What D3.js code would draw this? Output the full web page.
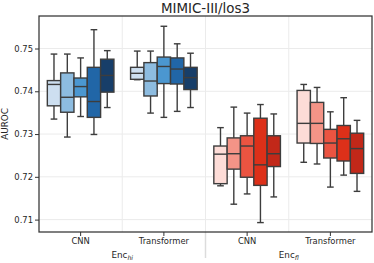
<!DOCTYPE html>
<html>
<head>
<meta charset="UTF-8">
<script src="https://d3js.org/d3.v7.min.js"></script>
<style>
  body { margin: 0; background: #fff; }
  text { font-family: "DejaVu Sans", sans-serif; fill: #262626; }
</style>
</head>
<body>
<div id="chart"></div>
<script>
// categories (4 boxes groups, two encoder blocks)
const models = ["CNN", "Transformer", "CNN", "Transformer"];
const encoders = ["hi", "fl"];
const yTicks = [0.71, 0.72, 0.73, 0.74, 0.75];

// box stats per group, 5 hues each
const whiskLo = [
  [0.7335, 0.7293, 0.7341, 0.7299, 0.7362],
  [0.7427, 0.7349, 0.7339, 0.7353, 0.7362],
  [0.7179, 0.7136, 0.7160, 0.7093, 0.7153],
  [0.7234, 0.7230, 0.7176, 0.7204, 0.7166]
];
const q1 = [
  [0.7366, 0.7351, 0.7387, 0.7339, 0.7398],
  [0.7428, 0.7389, 0.7418, 0.7417, 0.7404],
  [0.7184, 0.7218, 0.7199, 0.7180, 0.7224],
  [0.7279, 0.7278, 0.7244, 0.7237, 0.7208]
];
const med = [
  [0.7416, 0.7386, 0.7411, 0.7376, 0.7437],
  [0.7442, 0.7424, 0.7458, 0.7452, 0.7432],
  [0.7253, 0.7254, 0.7272, 0.7228, 0.7254],
  [0.7325, 0.7325, 0.7279, 0.7289, 0.7266]
];
const q3 = [
  [0.7425, 0.7443, 0.7431, 0.7456, 0.7475],
  [0.7456, 0.7467, 0.7480, 0.7478, 0.7456],
  [0.7272, 0.7291, 0.7296, 0.7337, 0.7296],
  [0.7402, 0.7374, 0.7311, 0.7320, 0.7302]
];
const whiskHi = [
  [0.7487, 0.7487, 0.7478, 0.7544, 0.7495],
  [0.7494, 0.7494, 0.7552, 0.7511, 0.7489],
  [0.7315, 0.7363, 0.7349, 0.7369, 0.7347],
  [0.7416, 0.7409, 0.7352, 0.7385, 0.7332]
];
const blues = ["#cddff0", "#8dbce0", "#4b97d0", "#2166a7", "#173e69"];
const reds = ["#fddcd7", "#f49487", "#eb5441", "#dd3019", "#c22819"];

const W = 374, H = 263;
const margin = {top: 16, right: 2, bottom: 31, left: 39};
const iw = W - margin.left - margin.right,
      ih = H - margin.top - margin.bottom;

const svg = d3.select("#chart").append("svg")
  .attr("width", W).attr("height", H);

const g = svg.append("g")
  .attr("transform", "translate(" + margin.left + "," + margin.top + ")");

const x = d3.scaleBand().domain(d3.range(models.length)).range([0, iw]);
const bw = x.bandwidth();
const hue = d3.scaleBand().domain(d3.range(5)).range([bw * 0.1, bw * 0.9]);
const y = d3.scaleLinear().domain([0.7071, 0.7576]).range([ih, 0]);

// grid
g.selectAll(".hgrid").data(yTicks).enter().append("line")
  .attr("x1", 0).attr("x2", iw)
  .attr("y1", d => y(d)).attr("y2", d => y(d))
  .attr("stroke", "#ebebeb").attr("stroke-width", 1);
g.selectAll(".vgrid").data(d3.range(1, models.length)).enter().append("line")
  .attr("x1", d => x(d)).attr("x2", d => x(d))
  .attr("y1", 0).attr("y2", ih)
  .attr("stroke", "#ebebeb").attr("stroke-width", 1);

// separator between encoder blocks, below the axis
g.append("line")
  .attr("x1", x(2)).attr("x2", x(2))
  .attr("y1", ih).attr("y2", ih + 26)
  .attr("stroke", "#dcdcdc").attr("stroke-width", 1.5);

// boxes
const lineCol = "#3d3d3d";
models.forEach(function(m, gi) {
  const pal = gi < 2 ? blues : reds;
  for (let i = 0; i < 5; i++) {
    const x0 = x(gi) + hue(i), w = hue.bandwidth(), cx = x0 + w / 2;
    const cap = w / 2;
    const bg = g.append("g");
    bg.append("line").attr("x1", cx).attr("x2", cx)
      .attr("y1", y(whiskHi[gi][i])).attr("y2", y(q3[gi][i]));
    bg.append("line").attr("x1", cx).attr("x2", cx)
      .attr("y1", y(q1[gi][i])).attr("y2", y(whiskLo[gi][i]));
    bg.append("line").attr("x1", cx - cap / 2).attr("x2", cx + cap / 2)
      .attr("y1", y(whiskHi[gi][i])).attr("y2", y(whiskHi[gi][i]));
    bg.append("line").attr("x1", cx - cap / 2).attr("x2", cx + cap / 2)
      .attr("y1", y(whiskLo[gi][i])).attr("y2", y(whiskLo[gi][i]));
    bg.append("rect").attr("x", x0).attr("width", w)
      .attr("y", y(q3[gi][i])).attr("height", y(q1[gi][i]) - y(q3[gi][i]))
      .attr("fill", pal[i]);
    bg.append("line").attr("x1", x0).attr("x2", x0 + w)
      .attr("y1", y(med[gi][i])).attr("y2", y(med[gi][i]));
    bg.selectAll("line, rect").attr("stroke", lineCol).attr("stroke-width", 1.4);
  }
});

// frame
g.append("rect").attr("x", 0).attr("y", 0).attr("width", iw).attr("height", ih)
  .attr("fill", "none").attr("stroke", "#333").attr("stroke-width", 1.25);

// y axis
const yAxis = g.append("g")
  .call(d3.axisLeft(y).tickValues(yTicks).tickFormat(d3.format(".2f")).tickSize(4).tickPadding(2));
yAxis.select(".domain").remove();
yAxis.selectAll("line").attr("stroke", "#333");
yAxis.selectAll("text").attr("font-size", 8.4).attr("fill", "#262626")
  .style("font-family", "DejaVu Sans");

// x axis
const xAxis = g.append("g").attr("transform", "translate(0," + ih + ")")
  .call(d3.axisBottom(x).tickFormat(i => models[i]).tickSize(4).tickPadding(2));
xAxis.select(".domain").remove();
xAxis.selectAll("line").attr("stroke", "#333");
xAxis.selectAll("text").attr("font-size", 8.4).attr("fill", "#262626")
  .style("font-family", "DejaVu Sans");

// encoder labels
encoders.forEach(function(e, k) {
  const cx = (x(2 * k) + x(2 * k + 1) + bw) / 2;
  const t = g.append("text").attr("x", cx).attr("y", ih + 26)
    .attr("text-anchor", "middle").attr("font-size", 8.8);
  t.append("tspan").text("Enc");
  t.append("tspan").attr("font-size", 6.2).attr("font-style", "italic")
    .attr("dy", 2).text(e);
});

// y label
g.append("text")
  .attr("transform", "translate(" + (-31) + "," + (ih / 2) + ") rotate(-90)")
  .attr("text-anchor", "middle").attr("font-size", 8.8).text("AUROC");

// title
svg.append("text").attr("x", margin.left + iw / 2).attr("y", 13)
  .attr("text-anchor", "middle").attr("font-size", 13.4).text("MIMIC-III/los3");
</script>
</body>
</html>
